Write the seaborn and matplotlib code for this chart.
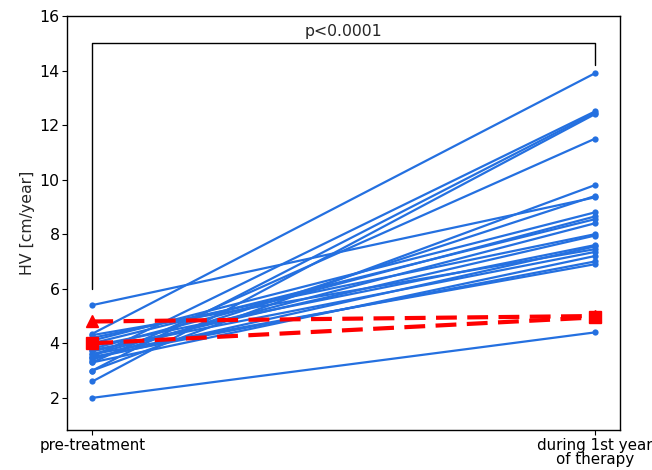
import numpy as np
import pandas as pd
import matplotlib
matplotlib.use("Agg")
import matplotlib.pyplot as plt
import seaborn as sns

# HV per patient, before treatment and during 1st year of therapy
hv_pre = [5.4, 4.35, 3.5, 3.0, 2.6, 3.3, 3.0, 3.4, 4.1, 3.8, 4.0,
          3.6, 4.2, 3.7, 3.9, 3.45, 4.3, 3.75, 3.3, 3.5, 3.6, 2.0]
hv_post = [9.35, 13.9, 12.5, 12.45, 12.4, 11.5, 9.8, 9.4, 8.8, 8.65, 8.55,
           8.4, 8.0, 7.95, 7.6, 7.55, 7.45, 7.35, 7.2, 7.0, 6.9, 4.4]

# reference lines (red, dashed)
ref_tri = [4.8, 5.0]
ref_sq = [4.0, 4.95]

x_labels = ["pre-treatment", "during 1st year\nof therapy"]
p_text = "p<0.0001"

n = len(hv_pre)
df = pd.DataFrame({
    "patient": list(range(n)) * 2,
    "time": [0] * n + [1] * n,
    "hv": hv_pre + hv_post,
})

sns.set_style("ticks")
plt.rcParams["font.family"] = ["DejaVu Sans"]

fig = plt.figure(figsize=(6.52, 4.70), dpi=100)
ax = fig.add_axes([0.103, 0.085, 0.848, 0.881])

blue = "#2470e0"
sns.lineplot(data=df, x="time", y="hv", units="patient", estimator=None,
             color=blue, marker="o", markersize=4.5, markeredgewidth=0,
             linewidth=1.6, ax=ax)

ax.plot([0, 1], ref_tri, color="red", linestyle="--", linewidth=3,
        marker="^", markersize=8, dashes=(5, 2.5))
ax.plot([0, 1], ref_sq, color="red", linestyle="--", linewidth=3,
        marker="s", markersize=8, dashes=(5, 2.5))

# significance bracket
ax.plot([0, 0, 1, 1], [6.0, 15.0, 15.0, 14.2], color="black", linewidth=1)
ax.text(0.5, 15.15, p_text, ha="center", va="bottom", fontsize=11.3)

ax.set_xticks([0, 1])
ax.set_xticklabels(x_labels, fontsize=10.9, linespacing=0.95)
ax.set_xlim(-0.05, 1.05)
ax.set_ylim(0.82, 16)
ax.set_yticks([2, 4, 6, 8, 10, 12, 14, 16])
ax.set_xlabel("")
ax.set_ylabel("HV [cm/year]", fontsize=11.3, labelpad=3)
for s in ax.spines.values():
    s.set_color("black")
    s.set_linewidth(1)
ax.tick_params(axis="y", labelsize=11.3)
ax.tick_params(colors="black", length=3.5, pad=2)

fig.savefig("out.png", dpi=100)
